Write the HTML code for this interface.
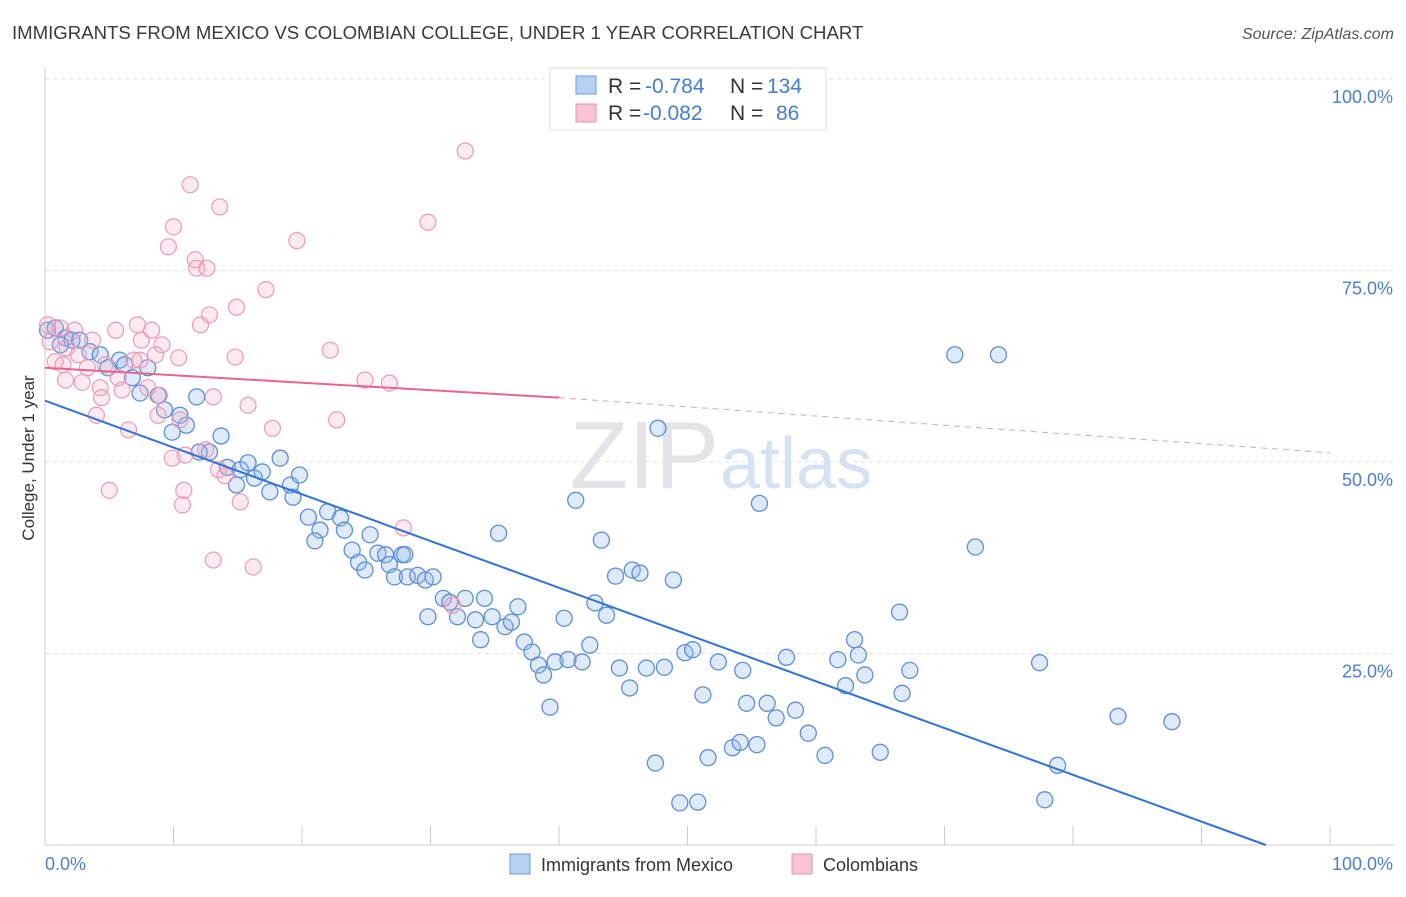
<!DOCTYPE html>
<html><head><meta charset="utf-8"><style>
body{margin:0;background:#fff;font-family:"Liberation Sans",sans-serif;}
svg text{font-family:"Liberation Sans",sans-serif;}
</style></head><body>
<svg id="chart" width="1406" height="892">
<text x="12" y="39" font-size="18.6" fill="#3a3a3a">IMMIGRANTS FROM MEXICO VS COLOMBIAN COLLEGE, UNDER 1 YEAR CORRELATION CHART</text>
<text x="1394" y="39" font-size="16" fill="#555" font-style="italic" text-anchor="end">Source: ZipAtlas.com</text>
<text x="719" y="488" font-size="96" fill="#e4e4e8" text-anchor="end" font-family="Liberation Serif">ZIP</text>
<text x="720" y="488" font-size="72" fill="#d4e2f4">atlas</text>
<g id="grid"></g>
<g id="axes"></g>
<g id="pts"></g>
<g id="lines"></g>
<text transform="translate(34,458) rotate(-90)" font-size="17" fill="#333" text-anchor="middle">College, Under 1 year</text>
<g>
<rect x="550" y="68" width="276" height="62" fill="#fff" stroke="#ddd"/>
<rect x="576" y="76" width="20" height="18" fill="#b8d0f2" stroke="#6a9be0"/>
<rect x="576" y="104" width="20" height="18" fill="#f8c4d5" stroke="#e890ad"/>
<text x="608" y="93" font-size="21" fill="#333">R =</text>
<text x="645" y="93" font-size="21" fill="#3f7fd8">-0.784</text>
<text x="730" y="93" font-size="21" fill="#333">N =</text>
<text x="767" y="93" font-size="21" fill="#3f7fd8">134</text>
<text x="608" y="120" font-size="21" fill="#333">R =</text>
<text x="643" y="120" font-size="21" fill="#3f7fd8">-0.082</text>
<text x="730" y="120" font-size="21" fill="#333">N =</text>
<text x="776" y="120" font-size="21" fill="#3f7fd8">86</text>
</g>
<g>
<rect x="510" y="854" width="20" height="20" fill="#b8d0f2" stroke="#6a9be0"/>
<text x="541" y="871" font-size="18" fill="#333">Immigrants from Mexico</text>
<rect x="792" y="854" width="20" height="20" fill="#f8c4d5" stroke="#e890ad"/>
<text x="823" y="871" font-size="18" fill="#333">Colombians</text>
</g>
</svg>
<script>
const yTicks=[25,50,75,100];
const yTickLabels=["25.0%","50.0%","75.0%","100.0%"];
const xTicks=[0,10,20,30,40,50,60,70,80,90,100];
const blueX=[0.2,0.8,1.6,2.1,1.2,3.5,2.7,4.3,4.9,5.8,6.2,8,6.8,7.4,8.8,9.3,10.5,9.9,11,11.8,13.7,12.8,12,14.2,15.2,15.8,16.3,16.9,18.3,17.5,19.1,19.8,19.3,14.9,20.5,21.4,21,22,23,23.3,23.9,24.4,24.9,25.3,25.9,26.5,26.8,27.2,27.8,28.2,29,29.6,30.2,28,29.8,31,31.5,32.7,32.1,33.5,34.2,34.8,33.9,35.3,35.8,36.3,36.8,37.3,37.9,38.4,38.8,39.3,39.7,40.7,41.8,40.4,41.3,42.4,42.8,43.3,43.7,44.4,44.7,45.5,45.7,46.3,46.8,47.5,48.2,48.9,47.7,49.4,49.8,50.4,50.8,51.2,51.6,52.4,53.5,54.1,54.3,54.6,55.4,55.6,56.2,56.9,57.7,58.4,59.4,60.7,61.7,62.3,63,63.3,63.8,65,66.5,66.7,67.3,70.8,72.4,74.2,77.4,77.8,78.8,83.5,87.7];
const blueY=[67.2,67.5,66.2,65.9,65.3,64.4,65.9,64,62.3,63.3,62.7,62.3,61,59,58.7,56.8,56.1,53.9,54.8,58.5,53.4,51.3,51.3,49.3,49,49.9,47.9,48.7,50.5,46.1,47,48.3,45.4,47,42.8,41.1,39.7,43.5,42.7,41.1,38.5,36.9,35.9,40.5,38.1,37.9,36.6,35,37.9,35,35.2,34.6,35,37.9,29.8,32.2,31.7,32.2,29.8,29.4,32.2,29.8,26.8,40.7,28.5,29.1,31.1,26.5,25.2,23.5,22.2,18,23.9,24.2,23.9,29.6,45,26.1,31.6,39.8,30,35.1,23.1,20.5,35.9,35.5,23.1,10.7,23.2,34.6,54.4,5.5,25.1,25.5,5.6,19.6,11.4,23.9,12.7,13.4,22.8,18.5,13.1,44.6,18.5,16.6,24.5,17.6,14.6,11.7,24.2,20.8,26.8,24.8,22.2,12.1,30.4,19.8,22.8,64,38.9,64,23.8,5.9,10.4,16.8,16.1];
const pinkX=[0.2,0.4,0.8,1.2,1.7,2.3,2.6,2.9,1.6,3.3,3.7,4,4.3,4.4,5,5.5,5.7,6,6.5,6.9,7.2,7.5,8,8.3,8.6,8.9,9.1,8.8,9.6,10,9.9,10.4,10.7,10.8,11.3,11.7,11.8,12.1,12.6,12.8,13.1,13.1,13.6,12.5,13.5,14,14.8,14.9,15.2,15.8,16.2,17.2,17.7,19.6,22.2,22.7,24.9,26.8,27.9,29.8,31.7,32.7,4.7,10.5,10.9,1.4,7.4];
const pinkY=[67.9,65.7,63.1,67.5,64.9,67.2,64,60.4,60.7,62.3,65.9,56.1,59.7,58.4,46.3,67.2,61,59.4,54.2,63.3,67.9,65.9,59.7,67.2,64,58.7,65.3,56.1,78.1,80.7,50.5,63.6,44.4,46.3,86.2,76.4,75.3,67.9,75.3,69.2,58.5,37.2,83.3,51.6,49,48.2,63.7,70.2,44.8,57.4,36.3,72.5,54.4,78.9,64.6,55.5,60.7,60.3,41.4,81.3,31.3,90.6,62.7,55.5,50.9,62.7,63.3];
const blueTrend=[58,0,95];
const pinkTrend=[62.3,58.4,40,51.2];
const NS="http://www.w3.org/2000/svg";
const X=v=>45+v*12.85, Y=v=>845-v*7.66;
function mk(t,a,p){const e=document.createElementNS(NS,t);for(const k in a)e.setAttribute(k,a[k]);p.appendChild(e);return e;}
const grid=document.getElementById('grid'),axes=document.getElementById('axes'),pts=document.getElementById('pts'),lines=document.getElementById('lines');
yTicks.forEach((t,i)=>{
 const l=mk('line',{x1:45,x2:1394,y1:Y(t),y2:Y(t),stroke:'#dde',"stroke-dasharray":'4,4'},grid);
 
 
 const tx=mk('text',{x:1393,y:Y(t)+24,"font-size":18,fill:'#4a7fd4',"text-anchor":'end'},axes);
 tx.textContent=yTickLabels[i];
 
 
});
mk('line',{x1:45,x2:45,y1:68,y2:845,stroke:'#ccc'},axes);
mk('line',{x1:45,x2:1394,y1:845,y2:845,stroke:'#ccc'},axes);
xTicks.forEach(t=>{const l=mk('line',{x1:X(t),x2:X(t),y1:826,y2:845,stroke:'#ccc'},axes);
 
 });
let a=mk('text',{x:45,y:870,"font-size":18,fill:'#4a7fd4'},axes);a.textContent='0.0%';


a=mk('text',{x:1393,y:870,"font-size":18,fill:'#4a7fd4',"text-anchor":'end'},axes);a.textContent='100.0%';


blueX.forEach((x,i)=>{const c=mk('circle',{cx:X(x),cy:Y(blueY[i]),r:8,fill:'rgba(150,185,235,0.3)',stroke:'#5b8fd9',"stroke-width":1.3},pts);
 
 });
pinkX.forEach((x,i)=>{const c=mk('circle',{cx:X(x),cy:Y(pinkY[i]),r:8,fill:'rgba(245,170,195,0.25)',stroke:'#eb9ab6',"stroke-width":1.2},pts);
 
 });
let l=mk('line',{x1:X(0),y1:Y(blueTrend[0]),x2:X(blueTrend[2]),y2:Y(blueTrend[1]),stroke:'#2f72d8',"stroke-width":2},lines);


l=mk('line',{x1:X(0),y1:Y(pinkTrend[0]),x2:X(pinkTrend[2]),y2:Y(pinkTrend[1]),stroke:'#e8648f',"stroke-width":2},lines);


l=mk('line',{x1:X(pinkTrend[2]),y1:Y(pinkTrend[1]),x2:X(100),y2:Y(pinkTrend[3]),stroke:'#e8a0b8',"stroke-width":1,"stroke-dasharray":'6,5'},lines);


</script>
</body></html>
